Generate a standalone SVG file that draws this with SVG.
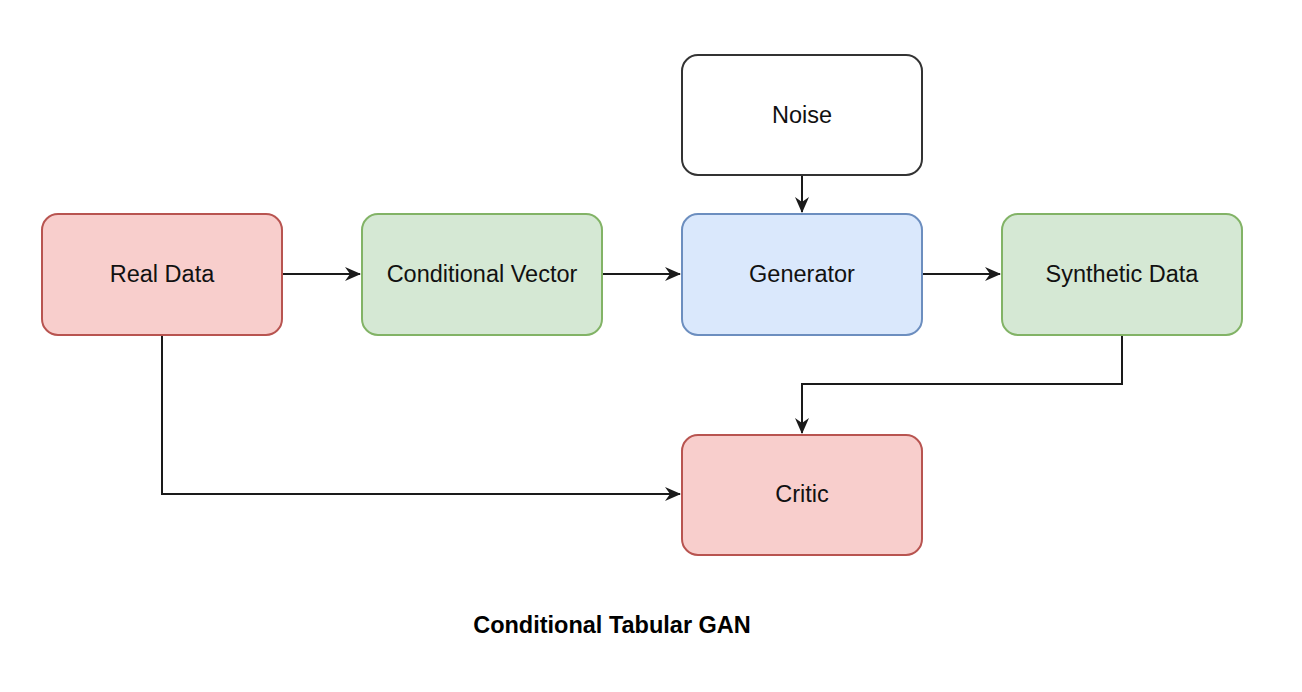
<svg xmlns="http://www.w3.org/2000/svg" width="1302" height="692" viewBox="0 0 1302 692">
<style>
.n{stroke-width:2}
.red{fill:#f8cecc;stroke:#b85450}
.green{fill:#d5e8d4;stroke:#82b366}
.blue{fill:#dae8fc;stroke:#6c8ebf}
.white{fill:#ffffff;stroke:#333333}
.t{font-family:"Liberation Sans",Arial,sans-serif;font-size:23.5px;fill:#111111;text-anchor:middle;dominant-baseline:central}
.e{fill:none;stroke:#1a1a1a;stroke-width:2;marker-end:url(#arr)}
.title{font-family:"Liberation Sans",Arial,sans-serif;font-size:23.5px;font-weight:bold;fill:#000;text-anchor:middle;dominant-baseline:central}
</style>
<defs>
<marker id="arr" viewBox="0 0 16 14" refX="15" refY="7" markerWidth="16" markerHeight="14" markerUnits="userSpaceOnUse" orient="auto">
<path d="M0,0 L16,7 L0,14 L5,7 Z" fill="#1a1a1a"/>
</marker>
</defs>
<rect width="1302" height="692" fill="#ffffff"/>
<g id="connectors">
<path class="e" d="M283,274 L360,274"/>
<path class="e" d="M603,274 L680,274"/>
<path class="e" d="M923,274 L1000,274"/>
<path class="e" d="M802,176 L802,212"/>
<path class="e" d="M1122,336 L1122,384 L802,384 L802,433"/>
<path class="e" d="M162,336 L162,494 L680,494"/>
</g>
<g id="noise"><rect class="n white" x="682" y="55" width="240" height="120" rx="16"/><text class="t" x="802" y="115">Noise</text></g>
<g id="real-data"><rect class="n red" x="42" y="214" width="240" height="121" rx="16"/><text class="t" x="162" y="274">Real Data</text></g>
<g id="conditional-vector"><rect class="n green" x="362" y="214" width="240" height="121" rx="16"/><text class="t" x="482" y="274">Conditional Vector</text></g>
<g id="generator"><rect class="n blue" x="682" y="214" width="240" height="121" rx="16"/><text class="t" x="802" y="274">Generator</text></g>
<g id="synthetic-data"><rect class="n green" x="1002" y="214" width="240" height="121" rx="16"/><text class="t" x="1122" y="274">Synthetic Data</text></g>
<g id="critic"><rect class="n red" x="682" y="435" width="240" height="120" rx="16"/><text class="t" x="802" y="494">Critic</text></g>
<text class="title" x="612" y="625">Conditional Tabular GAN</text>
</svg>
